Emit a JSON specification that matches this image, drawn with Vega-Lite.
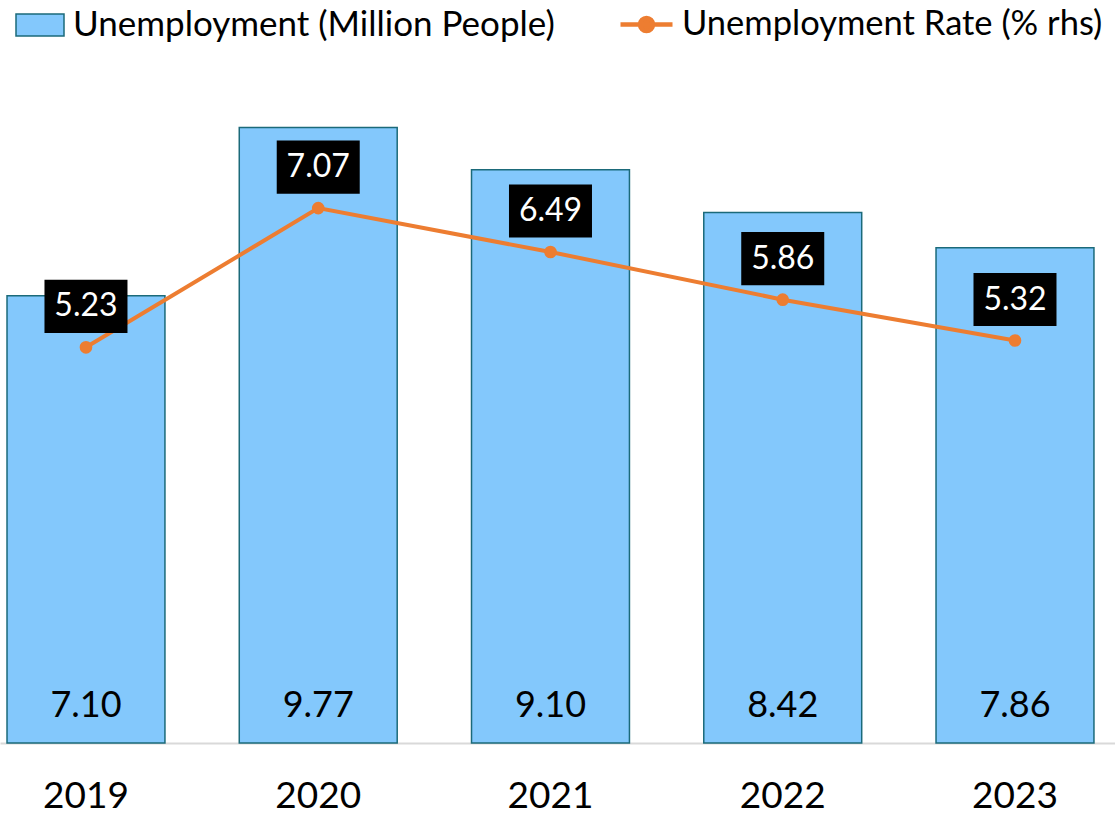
{
  "$schema": "https://vega.github.io/schema/vega-lite/v6.json",
  "width": 1115,
  "height": 693,
  "autosize": "none",
  "padding": {"top": 50, "left": 0, "right": 0, "bottom": 73},
  "background": "white",
  "config": {"font": "Lato", "view": {"stroke": null}},
  "data": {"values": [
    {"year": "2019", "unemp": 7.10, "rate": 5.23},
    {"year": "2020", "unemp": 9.77, "rate": 7.07},
    {"year": "2021", "unemp": 9.10, "rate": 6.49},
    {"year": "2022", "unemp": 8.42, "rate": 5.86},
    {"year": "2023", "unemp": 7.86, "rate": 5.32}
  ]},
  "encoding": {
    "x": {
      "field": "year", "type": "ordinal",
      "scale": {"paddingInner": 0.32, "paddingOuter": 0.0604, "align": 0.25},
      "axis": {"title": null, "labelAngle": 0, "labelFontSize": 37, "labelColor": "black", "labelFont": "Lato",
               "ticks": false, "domainColor": "#D9D9D9", "domainWidth": 2, "labelPadding": 35, "grid": false}
    }
  },
  "layer": [
    {
      "mark": {"type": "bar", "stroke": "#1B6A7A", "strokeWidth": 1.5},
      "encoding": {
        "y": {"field": "unemp", "type": "quantitative", "scale": {"domain": [0, 11], "nice": false}, "axis": null},
        "fill": {"datum": "Unemployment (Million People)", "type": "nominal",
                 "scale": {"range": ["#83C8FC"]},
                 "legend": {"title": null, "orient": "none", "legendX": 15, "legendY": -50, "padding": 0,
                            "symbolType": "M-1,-0.46H1V0.46H-1Z", "symbolSize": 2304,
                            "symbolStrokeColor": "#1B6A7A", "symbolStrokeWidth": 1.5,
                            "labelFontSize": 35, "labelFont": "Lato", "labelColor": "black", "labelOffset": 8, "labelLimit": 1000}}
      }
    },
    {
      "mark": {"type": "text", "fontSize": 36, "font": "Lato", "color": "black", "baseline": "middle", "dy": -37},
      "encoding": {
        "y": {"datum": 0, "type": "quantitative", "scale": {"domain": [0, 11], "nice": false}, "axis": null},
        "text": {"field": "unemp", "type": "quantitative", "format": ".2f"}
      }
    },
    {
      "mark": {"type": "line", "strokeWidth": 4},
      "encoding": {
        "y": {"field": "rate", "type": "quantitative", "scale": {"domain": [0, 9.16], "nice": false}, "axis": null},
        "stroke": {"datum": "Unemployment Rate (% rhs)", "type": "nominal",
                   "scale": {"range": ["#ED7D31"]},
                   "legend": {"title": null, "orient": "none", "legendX": 618, "legendY": -54, "padding": 0,
                              "symbolType": "M-1,0L1,0M-0.25,0A0.25,0.25 0 1,1 0.25,0A0.25,0.25 0 1,1 -0.25,0Z",
                              "symbolSize": 2704, "symbolStrokeWidth": 4.5, "symbolFillColor": "#ED7D31",
                              "encode": {"symbols": {"update": {"fill": {"value": "#ED7D31"}, "stroke": {"value": "#ED7D31"}, "strokeWidth": {"value": 4.5}}}},
                              "labelFontSize": 34.5, "labelFont": "Lato", "labelColor": "black", "labelOffset": 7, "labelLimit": 1000}}
      }
    },
    {
      "mark": {"type": "point", "filled": true, "size": 160, "color": "#ED7D31", "opacity": 1},
      "encoding": {
        "y": {"field": "rate", "type": "quantitative", "scale": {"domain": [0, 9.16], "nice": false}, "axis": null}
      }
    },
    {
      "mark": {"type": "point", "filled": true, "color": "black", "opacity": 1, "size": 6889,
               "shape": "M-1,-0.64H1V0.64H-1Z", "yOffset": -41},
      "encoding": {
        "y": {"field": "rate", "type": "quantitative", "scale": {"domain": [0, 9.16], "nice": false}, "axis": null}
      }
    },
    {
      "mark": {"type": "text", "fontSize": 32, "font": "Lato", "color": "white", "baseline": "middle", "dy": -41},
      "encoding": {
        "y": {"field": "rate", "type": "quantitative", "scale": {"domain": [0, 9.16], "nice": false}, "axis": null},
        "text": {"field": "rate", "type": "quantitative", "format": ".2f"}
      }
    }
  ],
  "resolve": {"scale": {"y": "independent"}}
}
